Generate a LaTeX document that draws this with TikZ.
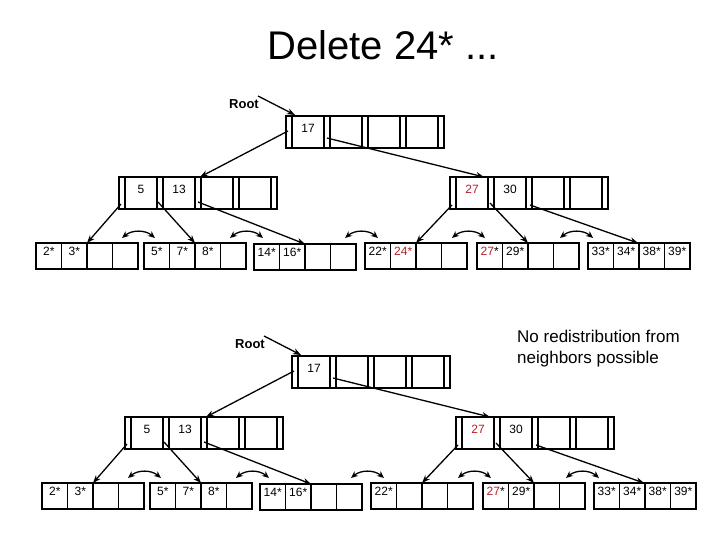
\documentclass[tikz,border=0pt]{standalone}
\usepackage{fontspec}
\setmainfont{Liberation Sans}
\usetikzlibrary{arrows.meta}
\definecolor{kred}{RGB}{185,30,40}
\tikzset{x=1pt,y=-1pt,
 bx/.style={draw,line width=1.6pt},
 ptr/.style={line width=1.3pt,-{Stealth[length=8pt,width=6pt]}},
 sib/.style={line width=1.3pt,{Stealth[length=7pt,width=6pt]}-{Stealth[length=7pt,width=6pt]}},
 key/.style={font=\fontsize{12}{12}\selectfont,inner sep=0pt},
 lkey/.style={font=\fontsize{12}{12}\selectfont,inner sep=0pt,anchor=north}}
\newcommand{\inner}[5]{% name x y k1 k2
 \draw[bx] (#2,#3) rectangle +(158,32);
 \foreach \i in {0,1,2,3,4}{\draw[line width=1.3pt] (#2+38*\i+6,#3) -- +(0,32);
   \draw[line width=1.3pt] (#2+38*\i,#3) -- +(0,32);}
 \node[key] (#1a) at (#2+22,#3+12) {#4};
 \node[key] (#1b) at (#2+60,#3+12) {#5};}
\newcommand{\leaf}[7]{% name x y k1..k4
 \draw[bx] (#2,#3) rectangle +(102,26);
 \foreach \i in {1,2,3}{\draw[line width=1.3pt] (#2+25.5*\i,#3) -- +(0,26);}
 \node[lkey] (#1a) at (#2+12.75,#3+4) {#4};
 \node[lkey] (#1b) at (#2+38.25,#3+4) {#5};
 \node[lkey] (#1c) at (#2+63.75,#3+4) {#6};
 \node[lkey] (#1d) at (#2+89.25,#3+4) {#7};}
\newcommand{\tree}[3]{% xshift yshift leaf4second
\begin{scope}[shift={(#1,#2)}]
 \node[font=\bfseries\fontsize{13}{13}\selectfont] (rootlbl) at (244,104) {Root};
 \coordinate (rs) at (258,96); \coordinate (re) at (295,115);
 \draw[ptr] (rs) -- (re);
 \inner{r}{286}{116}{17}{}
 \inner{li}{119}{177}{5}{13}
 \inner{ri}{450}{177}{\textcolor{kred}{27}}{30}
 \leaf{la}{36}{243}{2*}{3*}{}{}
 \leaf{lb}{144}{243}{5*}{7*}{8*}{}
 \leaf{lc}{254}{244}{14*}{16*}{}{}
 \leaf{ld}{365}{243}{22*}{#3}{}{}
 \leaf{le}{477}{243}{\textcolor{kred}{27}*}{29*}{}{}
 \leaf{lf}{588}{243}{33*}{34*}{38*}{39*}
 \coordinate (p0) at (288,131); \coordinate (p1) at (327,138);
 \coordinate (t0) at (200,177); \coordinate (t1) at (484,177);
 \draw[ptr] (p0) -- (t0); \draw[ptr] (p1) -- (t1);
 \coordinate (a0) at (121,204); \coordinate (a1) at (158,202); \coordinate (a2) at (198,202);
 \coordinate (b0) at (452,205); \coordinate (b1) at (490,203); \coordinate (b2) at (530,205);
 \coordinate (c0) at (87,243); \coordinate (c1) at (195,243); \coordinate (c2) at (305,244);
 \coordinate (c3) at (416,243); \coordinate (c4) at (528,243); \coordinate (c5) at (638,243);
 \draw[ptr] (a0) -- (c0); \draw[ptr] (a1) -- (c1); \draw[ptr] (a2) -- (c2);
 \draw[ptr] (b0) -- (c3); \draw[ptr] (b1) -- (c4); \draw[ptr] (b2) -- (c5);
 \foreach \u/\v in {122/155,230/263,345/378,452/485,560/593}{
   \coordinate (s1) at (\u,238); \coordinate (s2) at (\v,238);
   \draw[sib] (s1) to[bend left=40] (s2);}
\end{scope}}
\begin{document}
\begin{tikzpicture}
\useasboundingbox (0,0) rectangle (720,540);
\node[font=\fontsize{40}{40}\selectfont] (title) at (383,45) {Delete 24* ...};
\tree{0}{0}{\textcolor{kred}{24*}}
\tree{6}{240}{}
\node[font=\fontsize{17}{21}\selectfont,align=left,anchor=north west,inner sep=0pt] (note) at (517,330) {No redistribution from\\neighbors possible};
\end{tikzpicture}
\end{document}
